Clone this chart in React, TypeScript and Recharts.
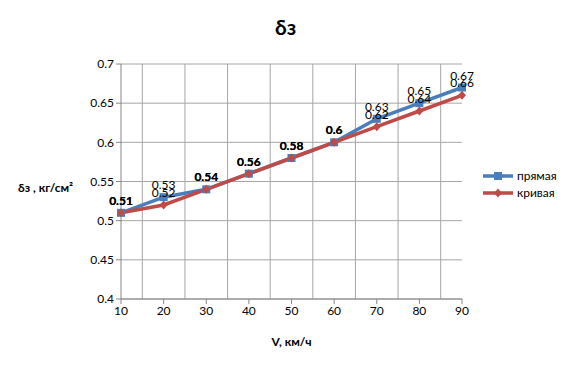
import React from 'react';
import {
  LineChart,
  Line,
  XAxis,
  YAxis,
  CartesianGrid,
  Legend,
  LabelList,
  ReferenceLine,
} from 'recharts';

const speeds = [10, 20, 30, 40, 50, 60, 70, 80, 90];
const straight = [0.51, 0.53, 0.54, 0.56, 0.58, 0.6, 0.63, 0.65, 0.67];
const curved = [0.51, 0.52, 0.54, 0.56, 0.58, 0.6, 0.62, 0.64, 0.66];
const yTicks = [0.4, 0.45, 0.5, 0.55, 0.6, 0.65, 0.7];
const xTicks = [10, 20, 30, 40, 50, 60, 70, 80, 90];
const xGrid = [15, 25, 35, 45, 55, 65, 75, 85];

const BLUE = '#4a7ebb';
const RED = '#be4b48';
const FONT = 'Lato, "Open Sans", sans-serif';

const data = speeds.map((v, i) => ({ v, straight: straight[i], curved: curved[i] }));

const SquareDot = (props: any) => {
  const { cx, cy } = props;
  if (cx == null || cy == null) return null;
  return <rect x={cx - 4} y={cy - 4} width={8} height={8} fill={BLUE} />;
};

const DiamondDot = (props: any) => {
  const { cx, cy } = props;
  if (cx == null || cy == null) return null;
  return (
    <path
      d={`M${cx},${cy - 4.5} L${cx + 4},${cy} L${cx},${cy + 4.5} L${cx - 4},${cy} Z`}
      fill={RED}
    />
  );
};

// identical values from both series overlap -> Excel shows them darker/bolder
const makeLabel = (other: number[]) => (props: any) => {
  const { x, y, value, index } = props;
  const same = other[index] === value;
  return (
    <text
      x={x}
      y={y - 8}
      textAnchor="middle"
      fontSize={12}
      fontFamily={FONT}
      fontWeight={same ? 700 : 400}
      fill="#000"
    >
      {String(value)}
    </text>
  );
};

const LegendContent = () => (
  <div style={{ fontFamily: FONT, fontSize: 12, color: '#000' }}>
    {[
      { name: 'прямая', color: BLUE, dot: 'square' },
      { name: 'кривая', color: RED, dot: 'diamond' },
    ].map((it) => (
      <div key={it.name} style={{ display: 'flex', alignItems: 'center', height: 17 }}>
        <svg width={30} height={10} style={{ marginRight: 4 }}>
          <line x1={0} y1={5} x2={30} y2={5} stroke={it.color} strokeWidth={3.5} />
          {it.dot === 'square' ? (
            <rect x={11} y={1} width={8} height={8} fill={it.color} />
          ) : (
            <path d="M15,0.5 L19,5 L15,9.5 L11,5 Z" fill={it.color} />
          )}
        </svg>
        <span>{it.name}</span>
      </div>
    ))}
  </div>
);

export default function App() {
  return (
    <div
      style={{
        position: 'absolute',
        left: 0,
        top: 0,
        width: 571,
        height: 367,
        background: '#fff',
        fontFamily: FONT,
      }}
    >
      <div
        style={{
          position: 'absolute',
          top: 14,
          left: 0,
          width: 571,
          textAlign: 'center',
          fontSize: 21,
          fontWeight: 700,
        }}
      >
        δз
      </div>
      <LineChart
        width={571}
        height={367}
        data={data}
        margin={{ top: 64, right: 109, bottom: 18, left: 0 }}
      >
        <CartesianGrid stroke="#a6a6a6" vertical={false} />
        {xGrid.map((g) => (
          <ReferenceLine key={g} x={g} stroke="#a6a6a6" />
        ))}
        <XAxis
          dataKey="v"
          type="number"
          domain={[10, 90]}
          ticks={xTicks}
          height={50}
          stroke="#868686"
          tickSize={5}
          tick={{ fill: '#000', fontSize: 12, fontFamily: FONT }}
          label={{
            value: 'V, км/ч',
            position: 'insideBottom',
            offset: 3,
            fill: '#000',
            fontSize: 12,
            fontWeight: 700,
            fontFamily: FONT,
          }}
        />
        <YAxis
          type="number"
          domain={[0.4, 0.7]}
          ticks={yTicks}
          width={121}
          stroke="#868686"
          tickSize={5}
          tick={{ fill: '#000', fontSize: 12, fontFamily: FONT }}
          label={{
            value: 'δз , кг/см²',
            position: 'insideLeft',
            offset: 18,
            dy: 6,
            fill: '#000',
            fontSize: 12,
            fontWeight: 700,
            fontFamily: FONT,
          }}
        />
        <Legend
          layout="vertical"
          verticalAlign="middle"
          align="center"
          content={<LegendContent />}
          wrapperStyle={{ left: 483, top: 167, width: 90 }}
        />
        <Line
          dataKey="straight"
          name="прямая"
          stroke={BLUE}
          strokeWidth={3.5}
          dot={<SquareDot />}
          activeDot={false}
          isAnimationActive={false}
        >
          <LabelList dataKey="straight" content={makeLabel(curved)} />
        </Line>
        <Line
          dataKey="curved"
          name="кривая"
          stroke={RED}
          strokeWidth={3.5}
          dot={<DiamondDot />}
          activeDot={false}
          isAnimationActive={false}
        >
          <LabelList dataKey="curved" content={makeLabel(straight)} />
        </Line>
      </LineChart>
    </div>
  );
}
